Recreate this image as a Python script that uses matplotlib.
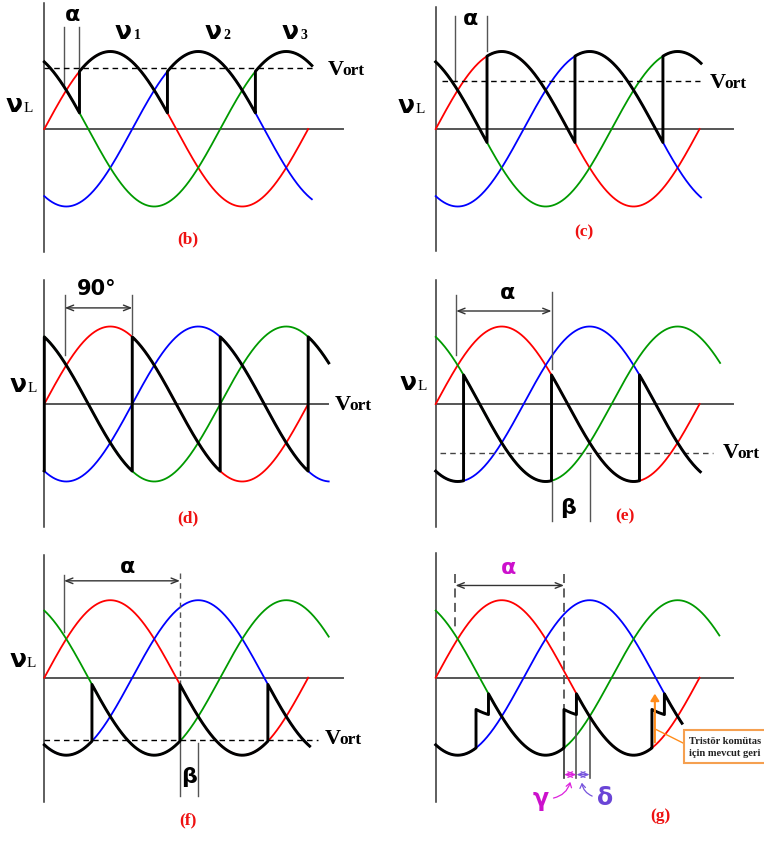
import numpy as np
import matplotlib.pyplot as plt
from matplotlib.patches import Rectangle, FancyArrowPatch

W, H = 764, 841
DEG_PX = 0.733      # pixels per electrical degree
AMP_PX = 77.5       # pixels per unit phase voltage

RED, BLUE, GREEN = '#ff0000', '#0000ff', '#009a00'
CAP = '#ee1111'
GRAY = '#555555'
SERIF = 'Liberation Serif'

# one panel per firing case
panel_names = ['b', 'c', 'd', 'e', 'f', 'g']
origin_x = [44.3, 435.7, 44.3, 435.7, 44.3, 435.7]
origin_y = [129, 129, 404, 404, 677.7, 677.7]

# firing delay (deg, from natural commutation at 30 deg) and overlap angle
alpha = [18, 40, 90, 128, 155, 145]
overlap = [0, 0, 0, 0, 0, 17]
v_ort = [0.79, 0.62, 0.0, -0.63, -0.81, None]

# extents of each trace (deg)
black_start = [0, 0, -0.01, 0, 0, 0]
black_end = [365, 362, 388, 361, 362, 336]
green_end = [365, 362, 388, 388, 388, 387]
red_end = 360

# axis extents
vaxis_top = [1.63, 1.57, 1.60, 1.60, 1.58, 1.61]
vaxis_bot = [-1.59, -1.58, -1.59, -1.59, -1.60, -1.60]
haxis_end = [407, 406, 387.5, 406, 407, 406]

# V_ort dashed line range and label position
ort_from = [0, 8, None, 6, 0, None]
ort_to = [369, 360, None, 378, 374, None]
ort_lbl = [(387, 0.70), (374, 0.53), (396.6, -0.08), (392, -0.70), (383, -0.86), None]

# v_L label (nu centre, baseline) and caption positions
nu_lbl = [(-40.7, 0.22), (-40.3, 0.20), (-35.5, 0.16), (-37.7, 0.18), (-36.3, 0.14), None]
cap_pos = [(196, -1.43), (202, -1.33), (196, -1.47), (258, -1.45), (196, -1.84), (307, -1.79)]

note_lines = ['Tristör komütas', 'için mevcut geri']


def phase(th, i):
    # 0 red, 1 blue, 2 green
    return np.sin(np.radians(th - 120 * i))


def output_wave(a, g, t0, t1):
    fire0 = 30 + a
    ths, vs = [], []
    k = int(np.floor((t0 - fire0) / 120)) - 1
    while fire0 + 120 * k < t1:
        f, f_next = fire0 + 120 * k, fire0 + 120 * (k + 1)
        p, p_prev = k % 3, (k - 1) % 3
        lo, hi = max(f, t0), min(f + g, t1)
        if hi > lo:
            t = np.linspace(lo, hi, 60)
            ths.append(t)
            vs.append((phase(t, p) + phase(t, p_prev)) / 2)
        lo, hi = max(f + g, t0), min(f_next, t1)
        if hi > lo:
            t = np.linspace(lo, hi, 200)
            ths.append(t)
            vs.append(phase(t, p))
        k += 1
    return np.concatenate(ths), np.concatenate(vs)


def vort_label(ax, th, v):
    ax.text(th, v, 'V', family=SERIF, fontweight='bold', fontsize=16,
            ha='left', va='baseline')
    ax.annotate('ort', (th, v), xytext=(10.5, 0), textcoords='offset points',
                family=SERIF, fontweight='bold', fontsize=12.5,
                ha='left', va='baseline')


def nu_label(ax, th, v, sub, sub_bold=True, sub_size=10, dx=7.5):
    ax.text(th, v, 'ν', fontsize=18, fontweight='bold', ha='center', va='baseline')
    ax.annotate(sub, (th, v), xytext=(dx, 0), textcoords='offset points',
                family=SERIF, fontweight='bold' if sub_bold else 'normal',
                fontsize=sub_size, ha='left', va='baseline')


def vline(ax, th, v0, v1, color=GRAY, lw=1.0, ls='-'):
    ax.plot([th, th], [v0, v1], color=color, lw=lw, ls=ls, zorder=2)


def dim_arrow(ax, t0, t1, v, color='#333333', lw=1.0):
    ax.annotate('', xy=(t1, v), xytext=(t0, v),
                arrowprops=dict(arrowstyle='<->,head_length=0.5,head_width=0.2',
                                color=color, lw=lw, shrinkA=0, shrinkB=0))


fig = plt.figure(figsize=(W / 100, H / 100), dpi=100)
axes = {}
for i, name in enumerate(panel_names):
    ox, oy = origin_x[i], origin_y[i]
    ax = fig.add_axes([0, 0, 1, 1])
    ax.set_xlim(-ox / DEG_PX, (W - ox) / DEG_PX)
    ax.set_ylim((oy - H) / AMP_PX, oy / AMP_PX)
    ax.axis('off')
    ax.patch.set_alpha(0)
    axes[name] = ax

    ax.plot([0, 0], [vaxis_bot[i], vaxis_top[i]], color='#333333', lw=1.1, zorder=1)
    ax.plot([0, haxis_end[i]], [0, 0], color=GRAY, lw=1.4, zorder=1)

    th = np.linspace(0, red_end, 500)
    ax.plot(th, phase(th, 0), color=RED, lw=1.3, zorder=2)
    th = np.linspace(0, black_end[i], 500)
    ax.plot(th, phase(th, 1), color=BLUE, lw=1.3, zorder=2)
    th = np.linspace(0, green_end[i], 500)
    ax.plot(th, phase(th, 2), color=GREEN, lw=1.3, zorder=2)

    tb, vb = output_wave(alpha[i], overlap[i], black_start[i], black_end[i])
    ax.plot(tb, vb, color='black', lw=2.1, zorder=4)

    if ort_from[i] is not None:
        ax.plot([ort_from[i], ort_to[i]], [v_ort[i], v_ort[i]],
                color='black' if i != 3 else '#444444', lw=1.0,
                ls=(0, (4, 3)), zorder=3)
    if ort_lbl[i] is not None:
        vort_label(ax, *ort_lbl[i])
    if nu_lbl[i] is not None:
        nu_label(ax, nu_lbl[i][0], nu_lbl[i][1], 'L', sub_bold=False, sub_size=11, dx=6.5)

    ax.text(*cap_pos[i], f'({name})', family=SERIF, fontweight='bold', fontsize=12.5,
            color=CAP, ha='center', va='center')

# (b)
ax = axes['b']
vline(ax, 27, 1.32, 0.55)
vline(ax, 48, 1.32, 0.76)
ax.text(37.8, 1.47, 'α', fontsize=16, fontweight='bold', ha='center', va='center')
for th_lbl, sub in zip([107.8, 229.9, 335.2], ['1', '2', '3']):
    nu_label(ax, th_lbl, 1.16, sub)

# (c)
ax = axes['c']
vline(ax, 27, 1.46, 0.62)
vline(ax, 70, 1.46, 1.0)
ax.text(47.7, 1.42, 'α', fontsize=16, fontweight='bold', ha='center', va='center')

# (d)
ax = axes['d']
vline(ax, 28, 1.41, 0.63)
vline(ax, 120, 1.41, 0.9)
dim_arrow(ax, 28, 120, 1.24)
ax.text(71.5, 1.49, '90°', fontsize=15, fontweight='bold', ha='center', va='center')

# (e)
ax = axes['e']
vline(ax, 28, 1.41, 0.63)
vline(ax, 158, 1.45, 0.45)
dim_arrow(ax, 28, 158, 1.20)
ax.text(98, 1.43, 'α', fontsize=16, fontweight='bold', ha='center', va='center')
vline(ax, 158, -1.0, -1.51)
vline(ax, 210, -0.66, -1.51)
ax.text(181, -1.34, 'β', fontsize=16, fontweight='bold', ha='center', va='center')

# (f)
ax = axes['f']
vline(ax, 27, 1.33, 0.59)
vline(ax, 185, 1.35, -0.09, ls=(0, (4, 3)))
dim_arrow(ax, 27, 185, 1.25)
ax.text(114, 1.43, 'α', fontsize=16, fontweight='bold', ha='center', va='center')
vline(ax, 185, -0.83, -1.53)
vline(ax, 210, -0.84, -1.53)
ax.text(198, -1.28, 'β', fontsize=16, fontweight='bold', ha='center', va='center')

# (g)
ax = axes['g']
vline(ax, 27, 1.34, 0.61, lw=1.3, ls=(0, (5, 3)))
vline(ax, 175, 1.34, -0.41, lw=1.3, ls=(0, (5, 3)))
dim_arrow(ax, 27, 175, 1.19)
ax.text(99, 1.41, 'α', fontsize=16, fontweight='bold', color='#cc11cc',
        ha='center', va='center')
vline(ax, 175, -0.91, -1.29, color='#333333', lw=1.2)
vline(ax, 192, -0.48, -1.29, lw=1.2)
vline(ax, 210, -0.5, -1.29, lw=1.2)
dim_arrow(ax, 175, 192, -1.25, color='#dd22dd', lw=0.9)
dim_arrow(ax, 192, 210, -1.25, color='#7755dd', lw=0.9)
ax.text(143, -1.57, 'γ', fontsize=17, fontweight='bold', color='#cc11cc',
        ha='center', va='center')
ax.text(231, -1.55, 'δ', fontsize=17, fontweight='bold', color='#6a45d6',
        ha='center', va='center')
ax.add_patch(FancyArrowPatch((157, -1.56), (184.5, -1.31), connectionstyle='arc3,rad=0.35',
                             arrowstyle='->,head_length=3,head_width=2', color='#dd22dd', lw=0.9))
ax.add_patch(FancyArrowPatch((217, -1.54), (199, -1.32), connectionstyle='arc3,rad=-0.35',
                             arrowstyle='->,head_length=3,head_width=2', color='#7755dd', lw=0.9))

# thyristor commutation margin note (box runs off the right edge)
ax.add_patch(FancyArrowPatch((299, -0.87), (299, -0.17),
                             arrowstyle='-|>,head_length=4,head_width=2.5',
                             color='#ff8c1a', lw=1.5, zorder=5))
ax.plot([301, 339], [-0.67, -0.85], color='#ff8c1a', lw=1.0, zorder=5)
ax.add_patch(Rectangle((339, -1.10), 150, 0.43, facecolor='white',
                       edgecolor='#f5a050', lw=1.5, zorder=5))
ax.text(345.5, -0.85, note_lines[0], family=SERIF, fontweight='bold',
        fontsize=7.6, color='#222222', ha='left', va='baseline', zorder=6)
ax.text(345.5, -1.01, note_lines[1], family=SERIF, fontweight='bold',
        fontsize=7.6, color='#222222', ha='left', va='baseline', zorder=6)

fig.savefig('out.png', dpi=100)
